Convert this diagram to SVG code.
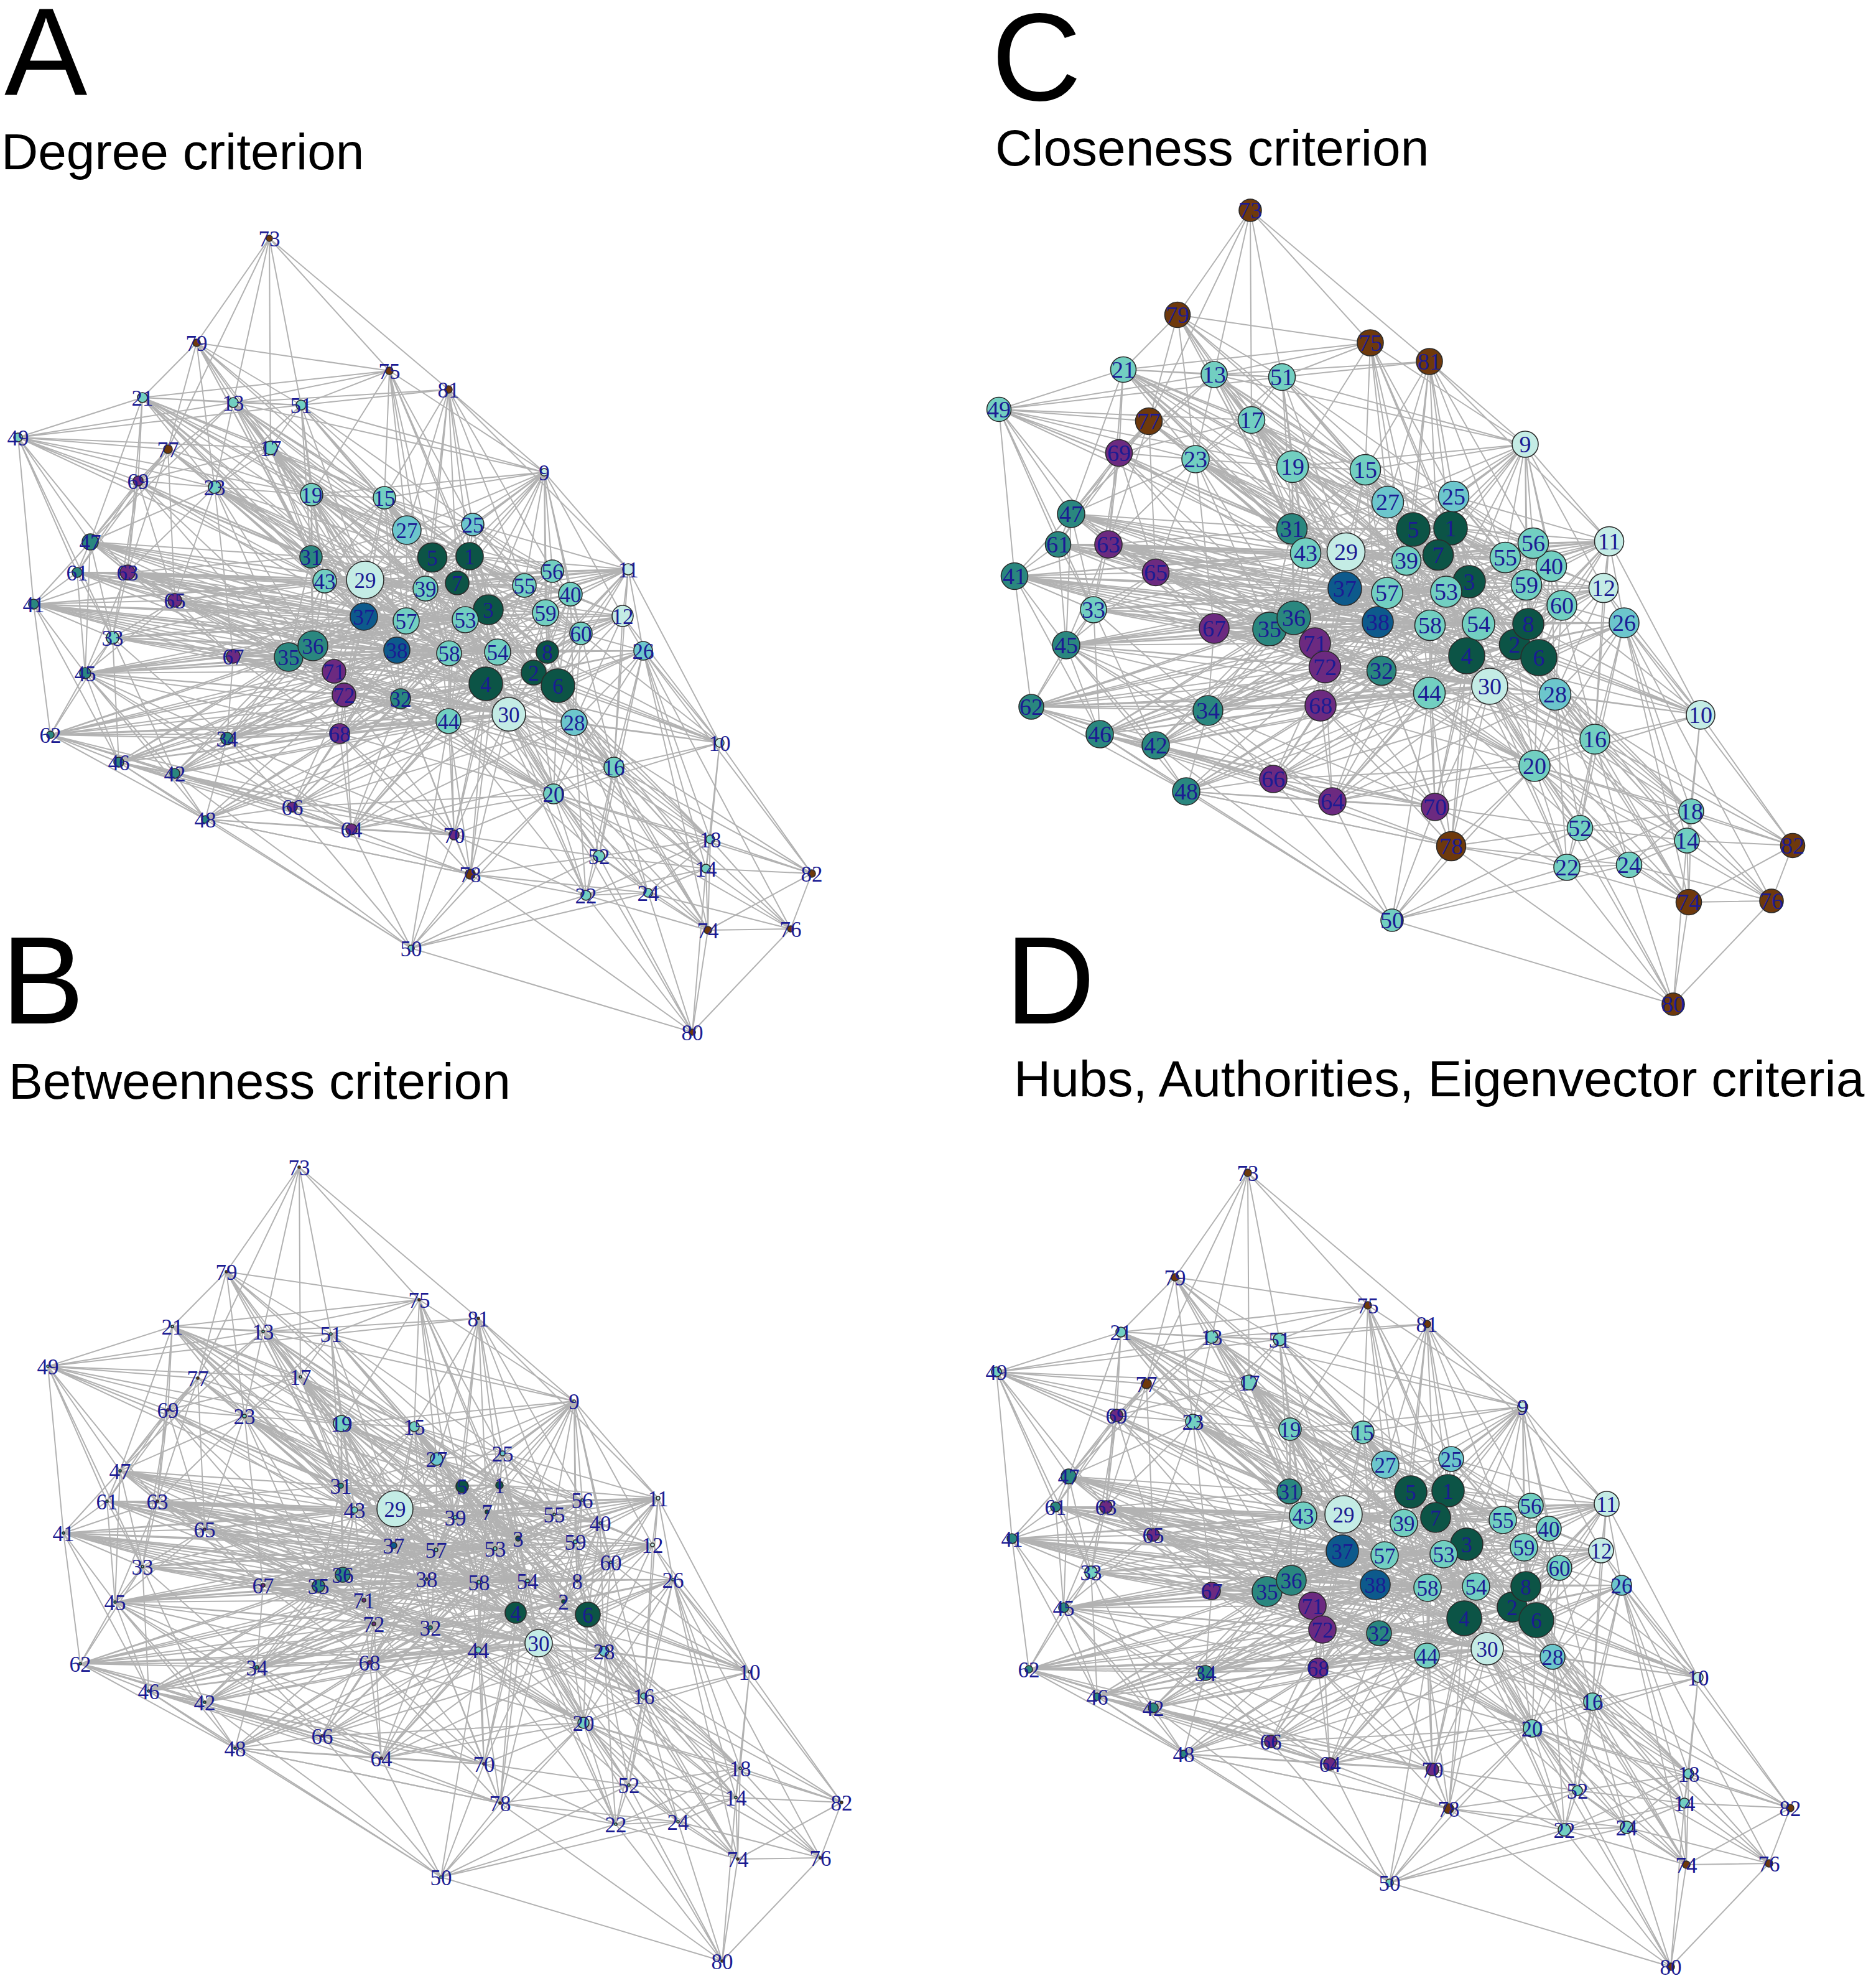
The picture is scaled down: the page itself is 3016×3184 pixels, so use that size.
<svg xmlns="http://www.w3.org/2000/svg" xmlns:xlink="http://www.w3.org/1999/xlink" width="3016" height="3184" viewBox="0 0 3016 3184">
<style>
.n circle{stroke:#2b2b2b;stroke-width:1.6}
.n text{font-family:"Liberation Serif","Times New Roman",serif;font-size:35px;fill:#1b1b93;text-anchor:middle}
.pc .n text{font-size:38px}
.dg circle{fill:#0c5446}
.bl circle{fill:#0d5a8c}
.lc circle{fill:#c4ece5}
.mt circle{fill:#72cfc1}
.mb circle{fill:#6cc6cc}
.dt circle{fill:#2a877f}
.pu circle{fill:#6c2a80}
.br circle{fill:#6e390c}
.t{font-family:"Liberation Sans",Arial,sans-serif;fill:#000}
.big{font-size:200px}
.sub{font-size:82px}
</style>
<defs>
<g id="E" fill="none" stroke="#b2b2b2" stroke-width="2">
<path d="M2010 338L1893 506M2010 338L1847 677M2010 338L1952 602M2010 338L2061 606M2010 338L2203 551M2010 338L2298 581M2010 338L2012 675"/>
<path d="M1893 506L2203 551M1893 506L1806 594M1893 506L1952 602M1893 506L2061 606M1893 506L1847 677M1893 506L1922 738M1893 506L2012 675M1893 506L2078 750M1893 506L2195 755M1893 506L2231 807M1893 506L2077 850M1893 506L2099 889"/>
<path d="M2203 551L1806 594M2203 551L1952 602M2203 551L2061 606M2203 551L2452 714M2203 551L2195 755M2203 551L2078 750M2203 551L2231 807M2203 551L2332 849M2203 551L2272 851M2203 551L2337 798M2203 551L2362 935M2203 551L2261 901"/>
<path d="M2298 581L2452 714M2298 581L2061 606M2298 581L2195 755M2298 581L2337 798M2298 581L2332 849M2298 581L2272 851M2298 581L2312 892M2298 581L2261 901M2298 581L2231 807M2298 581L2420 896M2298 581L2465 873M2298 581L2587 870M2298 581L2362 935M2298 581L1952 602"/>
<path d="M2452 714L2337 798M2452 714L2465 873M2452 714L2420 896M2452 714L2494 910M2452 714L2454 940M2452 714L2587 870M2452 714L2578 945M2452 714L2332 849M2452 714L2272 851M2452 714L2312 892M2452 714L2362 935M2452 714L2195 755M2452 714L2231 807M2452 714L2078 750M2452 714L2061 606M2452 714L1952 602M2452 714L2457 1003M2452 714L2164 887M2452 714L2261 901M2452 714L2325 951M2452 714L2511 973"/>
<path d="M2587 870L2465 873M2587 870L2420 896M2587 870L2494 910M2587 870L2454 940M2587 870L2511 973M2587 870L2578 945M2587 870L2611 1001M2587 870L2337 798M2587 870L2332 849M2587 870L2362 935M2587 870L2312 892M2587 870L2325 951M2587 870L2734 1149M2587 870L2457 1003M2587 870L2435 1036M2587 870L2474 1057M2587 870L2564 1188M2587 870L2164 887M2587 870L2261 901M2587 870L2230 953"/>
<path d="M2578 945L2611 1001M2578 945L2454 940M2578 945L2511 973M2578 945L2494 910M2578 945L2457 1003M2578 945L2474 1057M2578 945L2435 1036M2578 945L2377 1003M2578 945L2362 935M2578 945L2325 951M2578 945L2500 1116M2578 945L2734 1149M2578 945L2564 1188M2578 945L2230 953M2578 945L2215 1000M2578 945L2299 1005M2578 945L2164 887"/>
<path d="M2734 1149L2611 1001M2734 1149L2500 1116M2734 1149L2564 1188M2734 1149L2474 1057M2734 1149L2435 1036M2734 1149L2457 1003M2734 1149L2719 1304M2734 1149L2712 1351M2734 1149L2511 973M2734 1149L2395 1103M2734 1149L2467 1231M2734 1149L2882 1359M2734 1149L2358 1054M2734 1149L2377 1003"/>
<path d="M2611 1001L2511 973M2611 1001L2457 1003M2611 1001L2435 1036M2611 1001L2474 1057M2611 1001L2500 1116M2611 1001L2564 1188M2611 1001L2395 1103M2611 1001L2377 1003M2611 1001L2467 1231M2611 1001L2540 1331M2611 1001L2719 1304M2611 1001L2712 1351M2611 1001L2882 1359M2611 1001L2715 1450M2611 1001L2848 1448M2611 1001L2358 1054M2611 1001L2299 1005M2611 1001L2215 1000M2611 1001L2298 1114M2611 1001L2221 1078"/>
<path d="M2882 1359L2719 1304M2882 1359L2712 1351M2882 1359L2715 1450M2882 1359L2848 1448M2882 1359L2564 1188M2882 1359L2467 1231M2882 1359L2500 1116"/>
<path d="M2848 1448L2715 1450M2848 1448L2690 1614M2848 1448L2712 1351M2848 1448L2719 1304M2848 1448L2564 1188M2848 1448L2467 1231M2848 1448L2619 1390"/>
<path d="M2715 1450L2690 1614M2715 1450L2712 1351M2715 1450L2719 1304M2715 1450L2619 1390M2715 1450L2519 1394M2715 1450L2540 1331M2715 1450L2467 1231M2715 1450L2564 1188M2715 1450L2500 1116M2715 1450L2395 1103M2715 1450L2474 1057"/>
<path d="M2690 1614L2238 1479M2690 1614L2519 1394M2690 1614L2619 1390M2690 1614L2540 1331M2690 1614L2712 1351M2690 1614L2333 1360M2690 1614L2467 1231"/>
<path d="M2238 1479L2519 1394M2238 1479L2619 1390M2238 1479L2540 1331M2238 1479L2333 1360M2238 1479L2307 1297M2238 1479L2142 1288M2238 1479L2047 1252M2238 1479L1907 1272M2238 1479L1858 1198M2238 1479L1768 1180M2238 1479L2467 1231M2238 1479L2298 1114"/>
<path d="M2719 1304L2712 1351M2719 1304L2564 1188M2719 1304L2467 1231M2719 1304L2500 1116M2719 1304L2474 1057M2719 1304L2435 1036M2719 1304L2395 1103M2719 1304L2540 1331M2719 1304L2519 1394M2719 1304L2619 1390"/>
<path d="M2712 1351L2564 1188M2712 1351L2467 1231M2712 1351L2500 1116M2712 1351L2619 1390M2712 1351L2519 1394M2712 1351L2540 1331M2712 1351L2395 1103M2712 1351L2358 1054M2712 1351L2474 1057"/>
<path d="M2519 1394L2540 1331M2519 1394L2619 1390M2519 1394L2467 1231M2519 1394L2564 1188M2519 1394L2395 1103M2519 1394L2298 1114M2519 1394L2307 1297M2519 1394L2333 1360M2519 1394L2500 1116M2519 1394L2358 1054"/>
<path d="M2619 1390L2540 1331M2619 1390L2467 1231M2619 1390L2564 1188M2619 1390L2500 1116M2619 1390L2395 1103M2619 1390L2474 1057M2619 1390L2333 1360"/>
<path d="M2540 1331L2467 1231M2540 1331L2564 1188M2540 1331L2395 1103M2540 1331L2298 1114M2540 1331L2358 1054M2540 1331L2500 1116M2540 1331L2307 1297M2540 1331L2333 1360"/>
<path d="M2333 1360L2307 1297M2333 1360L2142 1288M2333 1360L2047 1252M2333 1360L1907 1272M2333 1360L2467 1231M2333 1360L2298 1114M2333 1360L2395 1103M2333 1360L2221 1078M2333 1360L2123 1134M2333 1360L2358 1054M2333 1360L2377 1003"/>
<path d="M2307 1297L2142 1288M2307 1297L2047 1252M2307 1297L2298 1114M2307 1297L2395 1103M2307 1297L2467 1231M2307 1297L2123 1134M2307 1297L2221 1078M2307 1297L2130 1072M2307 1297L2299 1005M2307 1297L2377 1003M2307 1297L2358 1054"/>
<path d="M2467 1231L2564 1188M2467 1231L2500 1116M2467 1231L2395 1103M2467 1231L2298 1114M2467 1231L2358 1054M2467 1231L2474 1057M2467 1231L2435 1036M2467 1231L2377 1003M2467 1231L2299 1005M2467 1231L2221 1078M2467 1231L2123 1134M2467 1231L2142 1288M2467 1231L2130 1072M2467 1231L2215 1000M2467 1231L2080 993M2467 1231L2041 1011M2467 1231L2114 1034"/>
<path d="M2564 1188L2500 1116M2564 1188L2474 1057M2564 1188L2435 1036M2564 1188L2457 1003M2564 1188L2395 1103M2564 1188L2358 1054M2564 1188L2377 1003M2564 1188L2511 973M2564 1188L2298 1114M2564 1188L2221 1078M2564 1188L2299 1005M2564 1188L2215 1000"/>
<path d="M1606 658L1806 594M1606 658L1952 602M1606 658L2061 606M1606 658L2012 675M1606 658L1847 677M1606 658L1799 728M1606 658L1922 738M1606 658L1722 826M1606 658L1631 926M1606 658L1701 875M1606 658L2078 750M1606 658L1782 875M1606 658L1758 980M1606 658L2099 889M1606 658L2077 850M1606 658L2164 887"/>
<path d="M1806 594L1952 602M1806 594L2061 606M1806 594L2012 675M1806 594L1799 728M1806 594L1722 826M1806 594L1922 738M1806 594L2078 750M1806 594L2195 755M1806 594L2077 850M1806 594L2099 889M1806 594L2164 887M1806 594L2231 807M1806 594L2272 851M1806 594L1782 875"/>
<path d="M1952 602L2061 606M1952 602L2012 675M1952 602L1922 738M1952 602L2078 750M1952 602L2195 755M1952 602L2077 850M1952 602L2231 807M1952 602L2164 887M1952 602L2099 889M1952 602L1722 826M1952 602L1799 728M1952 602L2332 849"/>
<path d="M2061 606L2012 675M2061 606L2078 750M2061 606L2195 755M2061 606L2231 807M2061 606L2337 798M2061 606L2077 850M2061 606L2272 851M2061 606L2332 849M2061 606L2164 887M2061 606L2099 889M2061 606L1922 738"/>
<path d="M2012 675L1922 738M2012 675L2078 750M2012 675L2195 755M2012 675L2077 850M2012 675L2099 889M2012 675L2164 887M2012 675L2231 807M2012 675L2162 946M2012 675L2272 851M2012 675L2261 901M2012 675L1799 728"/>
<path d="M1847 677L1799 728M1847 677L1922 738M1847 677L1722 826M1847 677L1782 875M1847 677L1701 875M1847 677L2078 750M1847 677L2077 850M1847 677L2099 889M1847 677L2164 887M1847 677L1858 920"/>
<path d="M1799 728L1722 826M1799 728L1782 875M1799 728L1701 875M1799 728L1758 980M1799 728L1922 738M1799 728L1858 920M1799 728L2077 850M1799 728L2099 889M1799 728L2164 887M1799 728L2162 946M1799 728L2041 1011M1799 728L2080 993"/>
<path d="M1922 738L2078 750M1922 738L2077 850M1922 738L2099 889M1922 738L2164 887M1922 738L2162 946M1922 738L1858 920M1922 738L1782 875M1922 738L1722 826M1922 738L2041 1011M1922 738L2080 993M1922 738L1952 1010M1922 738L2230 953M1922 738L2261 901M1922 738L2272 851"/>
<path d="M2078 750L2195 755M2078 750L2077 850M2078 750L2099 889M2078 750L2164 887M2078 750L2231 807M2078 750L2162 946M2078 750L2261 901M2078 750L2272 851M2078 750L2332 849M2078 750L2312 892M2078 750L2230 953M2078 750L2325 951M2078 750L2080 993"/>
<path d="M2195 755L2231 807M2195 755L2337 798M2195 755L2077 850M2195 755L2099 889M2195 755L2164 887M2195 755L2272 851M2195 755L2332 849M2195 755L2312 892M2195 755L2261 901M2195 755L2230 953M2195 755L2325 951M2195 755L2362 935M2195 755L2420 896"/>
<path d="M1722 826L1701 875M1722 826L1782 875M1722 826L1631 926M1722 826L1758 980M1722 826L1714 1037M1722 826L1858 920M1722 826L2077 850M1722 826L2099 889M1722 826L2164 887M1722 826L2041 1011M1722 826L2080 993M1722 826L2162 946M1722 826L1952 1010M1722 826L2230 953M1722 826L2261 901M1722 826L2325 951"/>
<path d="M1701 875L1782 875M1701 875L1631 926M1701 875L1758 980M1701 875L1714 1037M1701 875L1858 920M1701 875L2099 889M1701 875L2164 887M1701 875L2041 1011M1701 875L2080 993M1701 875L2162 946M1701 875L2230 953M1701 875L2261 901"/>
<path d="M1782 875L1631 926M1782 875L1758 980M1782 875L1714 1037M1782 875L1858 920M1782 875L1952 1010M1782 875L2099 889M1782 875L2164 887M1782 875L2162 946M1782 875L2041 1011M1782 875L2080 993M1782 875L2077 850M1782 875L2114 1034M1782 875L2230 953M1782 875L2261 901M1782 875L2325 951"/>
<path d="M1631 926L1758 980M1631 926L1714 1037M1631 926L1658 1136M1631 926L1768 1180M1631 926L1858 920M1631 926L1952 1010M1631 926L2041 1011M1631 926L2080 993M1631 926L2164 887M1631 926L2099 889M1631 926L2230 953M1631 926L2325 951M1631 926L2215 1000M1631 926L2299 1005M1631 926L2377 1003"/>
<path d="M1858 920L1758 980M1858 920L1714 1037M1858 920L1952 1010M1858 920L2041 1011M1858 920L2080 993M1858 920L2164 887M1858 920L2162 946M1858 920L2215 1000M1858 920L2099 889M1858 920L2114 1034M1858 920L2130 1072M1858 920L2230 953"/>
<path d="M1758 980L1714 1037M1758 980L1658 1136M1758 980L1768 1180M1758 980L1952 1010M1758 980L2041 1011M1758 980L2080 993M1758 980L2164 887M1758 980L2162 946M1758 980L1858 1198M1758 980L1942 1142M1758 980L2230 953M1758 980L2215 1000M1758 980L2299 1005M1758 980L2325 951"/>
<path d="M1714 1037L1658 1136M1714 1037L1768 1180M1714 1037L1858 1198M1714 1037L1942 1142M1714 1037L1952 1010M1714 1037L2041 1011M1714 1037L2080 993M1714 1037L2114 1034M1714 1037L2130 1072M1714 1037L2162 946M1714 1037L2215 1000M1714 1037L1907 1272M1714 1037L2230 953M1714 1037L2325 951M1714 1037L2299 1005M1714 1037L2377 1003M1714 1037L2221 1078M1714 1037L2298 1114"/>
<path d="M1658 1136L1768 1180M1658 1136L1858 1198M1658 1136L1942 1142M1658 1136L1907 1272M1658 1136L2041 1011M1658 1136L2080 993M1658 1136L2123 1134M1658 1136L2114 1034M1658 1136L2130 1072M1658 1136L2221 1078M1658 1136L2215 1000M1658 1136L2299 1005M1658 1136L2298 1114M1658 1136L2395 1103"/>
<path d="M1768 1180L1858 1198M1768 1180L1907 1272M1768 1180L1942 1142M1768 1180L2041 1011M1768 1180L2080 993M1768 1180L2114 1034M1768 1180L2130 1072M1768 1180L2123 1134M1768 1180L2221 1078M1768 1180L2047 1252M1768 1180L2215 1000M1768 1180L2299 1005M1768 1180L2298 1114M1768 1180L2395 1103M1768 1180L2358 1054"/>
<path d="M1858 1198L1907 1272M1858 1198L1942 1142M1858 1198L2047 1252M1858 1198L2041 1011M1858 1198L2080 993M1858 1198L2114 1034M1858 1198L2130 1072M1858 1198L2123 1134M1858 1198L2221 1078M1858 1198L2142 1288M1858 1198L2215 1000"/>
<path d="M1907 1272L1942 1142M1907 1272L2047 1252M1907 1272L2142 1288M1907 1272L2123 1134M1907 1272L2221 1078M1907 1272L2298 1114M1907 1272L2130 1072M1907 1272L2395 1103M1907 1272L2358 1054"/>
<path d="M1942 1142L1952 1010M1942 1142L2041 1011M1942 1142L2080 993M1942 1142L2114 1034M1942 1142L2130 1072M1942 1142L2123 1134M1942 1142L2221 1078M1942 1142L2047 1252M1942 1142L2215 1000M1942 1142L2162 946"/>
<path d="M1952 1010L2041 1011M1952 1010L2080 993M1952 1010L2114 1034M1952 1010L2130 1072M1952 1010L2162 946M1952 1010L2215 1000M1952 1010L2164 887M1952 1010L2221 1078M1952 1010L2230 953M1952 1010L2123 1134"/>
<path d="M2047 1252L2142 1288M2047 1252L2123 1134M2047 1252L2221 1078M2047 1252L2130 1072M2047 1252L2298 1114M2047 1252L2395 1103M2047 1252L2358 1054M2047 1252L2215 1000M2047 1252L2299 1005"/>
<path d="M2142 1288L2123 1134M2142 1288L2221 1078M2142 1288L2298 1114M2142 1288L2395 1103M2142 1288L2358 1054M2142 1288L2377 1003M2142 1288L2130 1072M2142 1288L2299 1005"/>
<path d="M2123 1134L2130 1072M2123 1134L2114 1034M2123 1134L2221 1078M2123 1134L2298 1114M2123 1134L2395 1103M2123 1134L2215 1000M2123 1134L2299 1005M2123 1134L2162 946M2123 1134L2358 1054M2123 1134L2230 953"/>
<path d="M2332 849L2272 851M2332 849L2312 892M2332 849L2337 798M2332 849L2231 807M2332 849L2261 901M2332 849L2362 935M2332 849L2325 951M2332 849L2420 896M2332 849L2465 873M2332 849L2494 910M2332 849L2454 940M2332 849L2457 1003M2332 849L2435 1036M2332 849L2474 1057M2332 849L2358 1054M2332 849L2377 1003M2332 849L2299 1005M2332 849L2230 953M2332 849L2162 946M2332 849L2215 1000M2332 849L2164 887M2332 849L2395 1103M2332 849L2511 973M2332 849L2578 945"/>
<path d="M2272 851L2312 892M2272 851L2337 798M2272 851L2231 807M2272 851L2261 901M2272 851L2099 889M2272 851L2164 887M2272 851L2162 946M2272 851L2230 953M2272 851L2362 935M2272 851L2325 951M2272 851L2299 1005M2272 851L2377 1003M2272 851L2358 1054M2272 851L2474 1057M2272 851L2435 1036M2272 851L2457 1003M2272 851L2215 1000M2272 851L2077 850M2272 851L2080 993M2272 851L2041 1011M2272 851L2298 1114M2272 851L2395 1103M2272 851L2420 896M2272 851L2454 940"/>
<path d="M2312 892L2261 901M2312 892L2362 935M2312 892L2325 951M2312 892L2230 953M2312 892L2162 946M2312 892L2215 1000M2312 892L2164 887M2312 892L2299 1005M2312 892L2377 1003M2312 892L2358 1054M2312 892L2474 1057M2312 892L2457 1003M2312 892L2435 1036M2312 892L2420 896M2312 892L2454 940M2312 892L2465 873M2312 892L2494 910M2312 892L2511 973M2312 892L2395 1103M2312 892L2221 1078M2312 892L2298 1114M2312 892L2337 798M2312 892L2231 807"/>
<path d="M2362 935L2325 951M2362 935L2377 1003M2362 935L2299 1005M2362 935L2358 1054M2362 935L2457 1003M2362 935L2435 1036M2362 935L2474 1057M2362 935L2420 896M2362 935L2454 940M2362 935L2494 910M2362 935L2465 873M2362 935L2511 973M2362 935L2395 1103M2362 935L2261 901M2362 935L2230 953M2362 935L2162 946M2362 935L2215 1000M2362 935L2164 887M2362 935L2080 993M2362 935L2041 1011M2362 935L2298 1114M2362 935L2500 1116"/>
<path d="M2358 1054L2377 1003M2358 1054L2299 1005M2358 1054L2435 1036M2358 1054L2457 1003M2358 1054L2474 1057M2358 1054L2395 1103M2358 1054L2298 1114M2358 1054L2221 1078M2358 1054L2215 1000M2358 1054L2230 953M2358 1054L2325 951M2358 1054L2162 946M2358 1054L2164 887M2358 1054L2080 993M2358 1054L2041 1011M2358 1054L2114 1034M2358 1054L2130 1072M2358 1054L2500 1116M2358 1054L2454 940M2358 1054L2511 973"/>
<path d="M2474 1057L2457 1003M2474 1057L2435 1036M2474 1057L2377 1003M2474 1057L2395 1103M2474 1057L2500 1116M2474 1057L2511 973M2474 1057L2454 940M2474 1057L2494 910M2474 1057L2325 951M2474 1057L2299 1005M2474 1057L2215 1000M2474 1057L2298 1114M2474 1057L2164 887M2474 1057L2162 946"/>
<path d="M2435 1036L2457 1003M2435 1036L2377 1003M2435 1036L2395 1103M2435 1036L2500 1116M2435 1036L2511 973M2435 1036L2454 940M2435 1036L2325 951M2435 1036L2299 1005M2435 1036L2215 1000M2435 1036L2298 1114M2435 1036L2230 953M2435 1036L2164 887"/>
<path d="M2457 1003L2377 1003M2457 1003L2511 973M2457 1003L2454 940M2457 1003L2494 910M2457 1003L2420 896M2457 1003L2465 873M2457 1003L2325 951M2457 1003L2299 1005M2457 1003L2500 1116M2457 1003L2395 1103M2457 1003L2215 1000M2457 1003L2162 946M2457 1003L2164 887"/>
<path d="M2164 887L2099 889M2164 887L2077 850M2164 887L2162 946M2164 887L2261 901M2164 887L2230 953M2164 887L2231 807M2164 887L2041 1011M2164 887L2080 993M2164 887L2114 1034M2164 887L2130 1072M2164 887L2215 1000M2164 887L2325 951M2164 887L2299 1005M2164 887L2221 1078M2164 887L2298 1114M2164 887L2395 1103M2164 887L2420 896M2164 887L2465 873M2164 887L2454 940M2164 887L2377 1003"/>
<path d="M2395 1103L2298 1114M2395 1103L2377 1003M2395 1103L2299 1005M2395 1103L2500 1116M2395 1103L2221 1078M2395 1103L2215 1000M2395 1103L2230 953M2395 1103L2325 951M2395 1103L2162 946M2395 1103L2080 993M2395 1103L2041 1011M2395 1103L2130 1072M2395 1103L2114 1034M2395 1103L2511 973M2395 1103L2454 940"/>
<path d="M2162 946L2215 1000M2162 946L2230 953M2162 946L2099 889M2162 946L2077 850M2162 946L2080 993M2162 946L2041 1011M2162 946L2114 1034M2162 946L2130 1072M2162 946L2261 901M2162 946L2325 951M2162 946L2299 1005M2162 946L2221 1078M2162 946L2231 807"/>
<path d="M2215 1000L2230 953M2215 1000L2299 1005M2215 1000L2325 951M2215 1000L2377 1003M2215 1000L2221 1078M2215 1000L2114 1034M2215 1000L2130 1072M2215 1000L2080 993M2215 1000L2041 1011M2215 1000L2298 1114"/>
<path d="M2041 1011L2080 993M2041 1011L2114 1034M2041 1011L2130 1072M2041 1011L2099 889M2041 1011L2077 850M2041 1011L2230 953M2041 1011L2221 1078M2041 1011L2298 1114M2041 1011L2299 1005"/>
<path d="M2080 993L2114 1034M2080 993L2130 1072M2080 993L2099 889M2080 993L2077 850M2080 993L2230 953M2080 993L2221 1078M2080 993L2299 1005M2080 993L2325 951"/>
<path d="M2114 1034L2130 1072M2114 1034L2230 953M2114 1034L2221 1078M2114 1034L2299 1005M2114 1034L2099 889M2130 1072L2221 1078M2130 1072L2299 1005M2130 1072L2298 1114M2130 1072L2230 953"/>
<path d="M2099 889L2077 850M2099 889L2261 901M2099 889L2230 953M2099 889L2231 807M2099 889L2325 951M2077 850L2231 807M2077 850L2261 901M2077 850L2230 953"/>
<path d="M2231 807L2337 798M2231 807L2261 901M2231 807L2325 951M2231 807L2420 896M2231 807L2465 873M2337 798L2261 901M2337 798L2420 896M2337 798L2465 873M2337 798L2494 910M2337 798L2325 951M2337 798L2362 935"/>
<path d="M2261 901L2230 953M2261 901L2325 951M2261 901L2420 896M2261 901L2299 1005M2261 901L2377 1003M2325 951L2230 953M2325 951L2299 1005M2325 951L2377 1003M2325 951L2420 896M2325 951L2454 940M2325 951L2511 973"/>
<path d="M2420 896L2465 873M2420 896L2494 910M2420 896L2454 940M2420 896L2511 973M2420 896L2377 1003M2465 873L2494 910M2465 873L2454 940M2465 873L2511 973M2494 910L2454 940M2494 910L2511 973M2494 910L2500 1116M2494 910L2377 1003"/>
<path d="M2454 940L2511 973M2454 940L2377 1003M2454 940L2500 1116M2511 973L2500 1116M2511 973L2377 1003M2377 1003L2299 1005M2377 1003L2298 1114M2377 1003L2500 1116M2230 953L2299 1005M2230 953L2221 1078M2230 953L2298 1114M2299 1005L2298 1114M2299 1005L2221 1078M2221 1078L2298 1114M2298 1114L2500 1116"/>
<path d="M2500 1116L2221 1078M2500 1116L2299 1005M2500 1116L2215 1000M2500 1116L2230 953"/>
<path d="M2077 850L2041 1011M2077 850L2080 993M2077 850L2162 946M2077 850L2325 951M2077 850L2299 1005M2077 850L2362 935M2077 850L2312 892M2077 850L2332 849"/>
<path d="M2099 889L2041 1011M2099 889L2080 993M2099 889L2162 946M2099 889L2215 1000M2099 889L2299 1005M2099 889L2377 1003M2099 889L2362 935M2099 889L2312 892M2099 889L2332 849M2099 889L2420 896"/>
<path d="M2230 953L2325 951M2230 953L2377 1003M2230 953L2362 935M2230 953L2420 896M2230 953L2454 940M2230 953L2457 1003M2261 901L2215 1000M2261 901L2454 940M2261 901L2465 873"/>
<path d="M2231 807L2230 953M2231 807L2362 935M2231 807L2299 1005M2337 798L2230 953M2337 798L2377 1003M2337 798L2454 940M2337 798L2511 973M2420 896L2299 1005M2465 873L2325 951M2465 873L2377 1003M2465 873L2299 1005"/>
<path d="M2494 910L2435 1036M2494 910L2325 951M2494 910L2299 1005M2454 940L2299 1005M2080 993L2377 1003M2041 1011L2325 951M2114 1034L2325 951M2114 1034L2377 1003M2114 1034L2298 1114M2130 1072L2377 1003M2221 1078L2377 1003M2221 1078L2325 951M2221 1078L2474 1057M2298 1114L2325 951"/>
<path d="M1952 1010L2299 1005M1952 1010L2325 951M1952 1010L2298 1114M1952 1010L2395 1103M1858 920L2325 951M1858 920L2299 1005M1858 920L2377 1003M1858 920L2358 1054M1782 875L2299 1005M1782 875L2215 1000M1782 875L2377 1003M1701 875L2215 1000M1701 875L2299 1005M1701 875L2325 951"/>
<path d="M1758 980L2377 1003M1758 980L2358 1054M1758 980L2395 1103M1942 1142L2299 1005M1942 1142L2298 1114M1942 1142L2395 1103M1942 1142L2358 1054M1942 1142L2377 1003M2123 1134L2377 1003M2123 1134L2325 951M2123 1134L2435 1036M2123 1134L2474 1057"/>
<path d="M2078 750L2215 1000M2078 750L2299 1005M2078 750L2377 1003M2078 750L2420 896M2078 750L2362 935M2195 755L2162 946M2195 755L2215 1000M2195 755L2299 1005M2195 755L2377 1003M2195 755L2454 940M2195 755L2465 873"/>
<path d="M1922 738L2215 1000M1922 738L2325 951M1922 738L2299 1005M1922 738L2377 1003M1922 738L2362 935M2012 675L2230 953M2012 675L2325 951M2012 675L2215 1000M2012 675L2362 935M1806 594L2162 946M1806 594L2261 901M1806 594L2230 953M1952 602L2162 946M1952 602L2261 901M1952 602L2230 953M1952 602L2272 851"/>
<path d="M1722 826L2215 1000M1722 826L2299 1005M1722 826L2377 1003M1631 926L2358 1054M1631 926L2395 1103M1631 926L2298 1114"/>
<path d="M1658 1136L2307 1297M1658 1136L2142 1288M1658 1136L2047 1252M1768 1180L2307 1297M1768 1180L2142 1288M1768 1180L2333 1360M1858 1198L2307 1297M1858 1198L2298 1114M1858 1198L2395 1103M1907 1272L2307 1297M1907 1272L2333 1360M1714 1037L2142 1288M1714 1037L2047 1252M1714 1037L2123 1134M1942 1142L2142 1288M1942 1142L2307 1297M2047 1252L2467 1231M2047 1252L2500 1116M2142 1288L2500 1116M2142 1288L2564 1188"/>
</g>
</defs>

<g id="titles" class="t">
<text class="big" x="7" y="152">A</text>
<text class="sub" x="2" y="272">Degree criterion</text>
<text class="big" x="1594" y="161">C</text>
<text class="sub" x="1600" y="266">Closeness criterion</text>
<text class="big" x="2" y="1645">B</text>
<text class="sub" x="14" y="1766">Betweenness criterion</text>
<text class="big" x="1616" y="1645">D</text>
<text class="sub" x="1630" y="1762">Hubs, Authorities, Eigenvector criteria</text>
</g>

<g id="panelA" transform="translate(-1577,45)">
<g id="A-edges"><use xlink:href="#E" href="#E"/></g>
<g id="A-nodes">
<g id="A1" class="n dg"><circle cx="2332" cy="849" r="22"/><text x="2332" y="862">1</text></g>
<g id="A2" class="n dg"><circle cx="2435" cy="1036" r="20"/><text x="2435" y="1049">2</text></g>
<g id="A3" class="n dg"><circle cx="2362" cy="935" r="24"/><text x="2362" y="948">3</text></g>
<g id="A4" class="n dg"><circle cx="2358" cy="1054" r="27"/><text x="2358" y="1067">4</text></g>
<g id="A5" class="n dg"><circle cx="2272" cy="851" r="23.5"/><text x="2272" y="864">5</text></g>
<g id="A6" class="n dg"><circle cx="2474" cy="1057" r="27"/><text x="2474" y="1070">6</text></g>
<g id="A7" class="n dg"><circle cx="2312" cy="892" r="19"/><text x="2312" y="905">7</text></g>
<g id="A8" class="n dg"><circle cx="2457" cy="1003" r="18"/><text x="2457" y="1016">8</text></g>
<g id="A9" class="n lc"><circle cx="2452" cy="714" r="6"/><text x="2452" y="727">9</text></g>
<g id="A10" class="n lc"><circle cx="2734" cy="1149" r="7"/><text x="2734" y="1162">10</text></g>
<g id="A11" class="n lc"><circle cx="2587" cy="870" r="9"/><text x="2587" y="883">11</text></g>
<g id="A12" class="n lc"><circle cx="2578" cy="945" r="17"/><text x="2578" y="958">12</text></g>
<g id="A13" class="n mt"><circle cx="1952" cy="602" r="8"/><text x="1952" y="615">13</text></g>
<g id="A14" class="n mt"><circle cx="2712" cy="1351" r="7"/><text x="2712" y="1364">14</text></g>
<g id="A15" class="n mt"><circle cx="2195" cy="755" r="18"/><text x="2195" y="768">15</text></g>
<g id="A16" class="n mt"><circle cx="2564" cy="1188" r="16"/><text x="2564" y="1201">16</text></g>
<g id="A17" class="n mt"><circle cx="2012" cy="675" r="11"/><text x="2012" y="688">17</text></g>
<g id="A18" class="n mt"><circle cx="2719" cy="1304" r="7"/><text x="2719" y="1317">18</text></g>
<g id="A19" class="n mt"><circle cx="2078" cy="750" r="18"/><text x="2078" y="763">19</text></g>
<g id="A20" class="n mt"><circle cx="2467" cy="1231" r="16"/><text x="2467" y="1244">20</text></g>
<g id="A21" class="n mt"><circle cx="1806" cy="594" r="8"/><text x="1806" y="607">21</text></g>
<g id="A22" class="n mt"><circle cx="2519" cy="1394" r="8"/><text x="2519" y="1407">22</text></g>
<g id="A23" class="n mt"><circle cx="1922" cy="738" r="10"/><text x="1922" y="751">23</text></g>
<g id="A24" class="n mt"><circle cx="2619" cy="1390" r="7"/><text x="2619" y="1403">24</text></g>
<g id="A25" class="n mb"><circle cx="2337" cy="798" r="18"/><text x="2337" y="811">25</text></g>
<g id="A26" class="n mb"><circle cx="2611" cy="1001" r="15"/><text x="2611" y="1014">26</text></g>
<g id="A27" class="n mb"><circle cx="2231" cy="807" r="23"/><text x="2231" y="820">27</text></g>
<g id="A28" class="n mb"><circle cx="2500" cy="1116" r="21"/><text x="2500" y="1129">28</text></g>
<g id="A29" class="n lc"><circle cx="2164" cy="887" r="30"/><text x="2164" y="900">29</text></g>
<g id="A30" class="n lc"><circle cx="2395" cy="1103" r="27"/><text x="2395" y="1116">30</text></g>
<g id="A31" class="n dt"><circle cx="2077" cy="850" r="18"/><text x="2077" y="863">31</text></g>
<g id="A32" class="n dt"><circle cx="2221" cy="1078" r="16"/><text x="2221" y="1091">32</text></g>
<g id="A33" class="n mt"><circle cx="1758" cy="980" r="10"/><text x="1758" y="993">33</text></g>
<g id="A34" class="n dt"><circle cx="1942" cy="1142" r="10"/><text x="1942" y="1155">34</text></g>
<g id="A35" class="n dt"><circle cx="2041" cy="1011" r="23"/><text x="2041" y="1024">35</text></g>
<g id="A36" class="n dt"><circle cx="2080" cy="993" r="24"/><text x="2080" y="1006">36</text></g>
<g id="A37" class="n bl"><circle cx="2162" cy="946" r="22"/><text x="2162" y="959">37</text></g>
<g id="A38" class="n bl"><circle cx="2215" cy="1000" r="21"/><text x="2215" y="1013">38</text></g>
<g id="A39" class="n mt"><circle cx="2261" cy="901" r="20"/><text x="2261" y="914">39</text></g>
<g id="A40" class="n mt"><circle cx="2494" cy="910" r="19"/><text x="2494" y="923">40</text></g>
<g id="A41" class="n dt"><circle cx="1631" cy="926" r="8"/><text x="1631" y="939">41</text></g>
<g id="A42" class="n dt"><circle cx="1858" cy="1198" r="8"/><text x="1858" y="1211">42</text></g>
<g id="A43" class="n mt"><circle cx="2099" cy="889" r="19"/><text x="2099" y="902">43</text></g>
<g id="A44" class="n mt"><circle cx="2298" cy="1114" r="20"/><text x="2298" y="1127">44</text></g>
<g id="A45" class="n dt"><circle cx="1714" cy="1037" r="9"/><text x="1714" y="1050">45</text></g>
<g id="A46" class="n dt"><circle cx="1768" cy="1180" r="8"/><text x="1768" y="1193">46</text></g>
<g id="A47" class="n dt"><circle cx="1722" cy="826" r="13"/><text x="1722" y="839">47</text></g>
<g id="A48" class="n dt"><circle cx="1907" cy="1272" r="6"/><text x="1907" y="1285">48</text></g>
<g id="A49" class="n mt"><circle cx="1606" cy="658" r="7"/><text x="1606" y="671">49</text></g>
<g id="A50" class="n mt"><circle cx="2238" cy="1479" r="5"/><text x="2238" y="1492">50</text></g>
<g id="A51" class="n mt"><circle cx="2061" cy="606" r="8"/><text x="2061" y="619">51</text></g>
<g id="A52" class="n mt"><circle cx="2540" cy="1331" r="9"/><text x="2540" y="1344">52</text></g>
<g id="A53" class="n mt"><circle cx="2325" cy="951" r="21"/><text x="2325" y="964">53</text></g>
<g id="A54" class="n mt"><circle cx="2377" cy="1003" r="21"/><text x="2377" y="1016">54</text></g>
<g id="A55" class="n mt"><circle cx="2420" cy="896" r="19"/><text x="2420" y="909">55</text></g>
<g id="A56" class="n mt"><circle cx="2465" cy="873" r="18"/><text x="2465" y="886">56</text></g>
<g id="A57" class="n mt"><circle cx="2230" cy="953" r="21"/><text x="2230" y="966">57</text></g>
<g id="A58" class="n mt"><circle cx="2299" cy="1005" r="20"/><text x="2299" y="1018">58</text></g>
<g id="A59" class="n mt"><circle cx="2454" cy="940" r="21"/><text x="2454" y="953">59</text></g>
<g id="A60" class="n mt"><circle cx="2511" cy="973" r="18"/><text x="2511" y="986">60</text></g>
<g id="A61" class="n dt"><circle cx="1701" cy="875" r="8"/><text x="1701" y="888">61</text></g>
<g id="A62" class="n dt"><circle cx="1658" cy="1136" r="6"/><text x="1658" y="1149">62</text></g>
<g id="A63" class="n pu"><circle cx="1782" cy="875" r="12"/><text x="1782" y="888">63</text></g>
<g id="A64" class="n pu"><circle cx="2142" cy="1288" r="9"/><text x="2142" y="1301">64</text></g>
<g id="A65" class="n pu"><circle cx="1858" cy="920" r="11"/><text x="1858" y="933">65</text></g>
<g id="A66" class="n pu"><circle cx="2047" cy="1252" r="8"/><text x="2047" y="1265">66</text></g>
<g id="A67" class="n pu"><circle cx="1952" cy="1010" r="11"/><text x="1952" y="1023">67</text></g>
<g id="A68" class="n pu"><circle cx="2123" cy="1134" r="16"/><text x="2123" y="1147">68</text></g>
<g id="A69" class="n pu"><circle cx="1799" cy="728" r="8"/><text x="1799" y="741">69</text></g>
<g id="A70" class="n pu"><circle cx="2307" cy="1297" r="8"/><text x="2307" y="1310">70</text></g>
<g id="A71" class="n pu"><circle cx="2114" cy="1034" r="19"/><text x="2114" y="1047">71</text></g>
<g id="A72" class="n pu"><circle cx="2130" cy="1072" r="19"/><text x="2130" y="1085">72</text></g>
<g id="A73" class="n br"><circle cx="2010" cy="338" r="5"/><text x="2010" y="351">73</text></g>
<g id="A74" class="n br"><circle cx="2715" cy="1450" r="6"/><text x="2715" y="1463">74</text></g>
<g id="A75" class="n br"><circle cx="2203" cy="551" r="6"/><text x="2203" y="564">75</text></g>
<g id="A76" class="n br"><circle cx="2848" cy="1448" r="5"/><text x="2848" y="1461">76</text></g>
<g id="A77" class="n br"><circle cx="1847" cy="677" r="7"/><text x="1847" y="690">77</text></g>
<g id="A78" class="n br"><circle cx="2333" cy="1360" r="8"/><text x="2333" y="1373">78</text></g>
<g id="A79" class="n br"><circle cx="1893" cy="506" r="6"/><text x="1893" y="519">79</text></g>
<g id="A80" class="n br"><circle cx="2690" cy="1614" r="5"/><text x="2690" y="1627">80</text></g>
<g id="A81" class="n br"><circle cx="2298" cy="581" r="6"/><text x="2298" y="594">81</text></g>
<g id="A82" class="n br"><circle cx="2882" cy="1359" r="6"/><text x="2882" y="1372">82</text></g>
</g>
</g>

<g id="panelC" class="pc">
<g id="C-edges"><use xlink:href="#E" href="#E"/></g>
<g id="C-nodes">
<g id="C1" class="n dg"><circle cx="2332" cy="849" r="27"/><text x="2332" y="862">1</text></g>
<g id="C2" class="n dg"><circle cx="2435" cy="1036" r="24.5"/><text x="2435" y="1049">2</text></g>
<g id="C3" class="n dg"><circle cx="2362" cy="935" r="26"/><text x="2362" y="948">3</text></g>
<g id="C4" class="n dg"><circle cx="2358" cy="1054" r="29"/><text x="2358" y="1067">4</text></g>
<g id="C5" class="n dg"><circle cx="2272" cy="851" r="27"/><text x="2272" y="864">5</text></g>
<g id="C6" class="n dg"><circle cx="2474" cy="1057" r="29"/><text x="2474" y="1070">6</text></g>
<g id="C7" class="n dg"><circle cx="2312" cy="892" r="24.5"/><text x="2312" y="905">7</text></g>
<g id="C8" class="n dg"><circle cx="2457" cy="1003" r="25"/><text x="2457" y="1016">8</text></g>
<g id="C9" class="n lc"><circle cx="2452" cy="714" r="21"/><text x="2452" y="727">9</text></g>
<g id="C10" class="n lc"><circle cx="2734" cy="1149" r="23"/><text x="2734" y="1162">10</text></g>
<g id="C11" class="n lc"><circle cx="2587" cy="870" r="23.5"/><text x="2587" y="883">11</text></g>
<g id="C12" class="n lc"><circle cx="2578" cy="945" r="23.5"/><text x="2578" y="958">12</text></g>
<g id="C13" class="n mt"><circle cx="1952" cy="602" r="21"/><text x="1952" y="615">13</text></g>
<g id="C14" class="n mt"><circle cx="2712" cy="1351" r="20"/><text x="2712" y="1364">14</text></g>
<g id="C15" class="n mt"><circle cx="2195" cy="755" r="24.5"/><text x="2195" y="768">15</text></g>
<g id="C16" class="n mt"><circle cx="2564" cy="1188" r="24"/><text x="2564" y="1201">16</text></g>
<g id="C17" class="n mt"><circle cx="2012" cy="675" r="21.5"/><text x="2012" y="688">17</text></g>
<g id="C18" class="n mt"><circle cx="2719" cy="1304" r="20"/><text x="2719" y="1317">18</text></g>
<g id="C19" class="n mt"><circle cx="2078" cy="750" r="25.5"/><text x="2078" y="763">19</text></g>
<g id="C20" class="n mt"><circle cx="2467" cy="1231" r="25"/><text x="2467" y="1244">20</text></g>
<g id="C21" class="n mt"><circle cx="1806" cy="594" r="20.5"/><text x="1806" y="607">21</text></g>
<g id="C22" class="n mt"><circle cx="2519" cy="1394" r="21"/><text x="2519" y="1407">22</text></g>
<g id="C23" class="n mt"><circle cx="1922" cy="738" r="22"/><text x="1922" y="751">23</text></g>
<g id="C24" class="n mt"><circle cx="2619" cy="1390" r="20.5"/><text x="2619" y="1403">24</text></g>
<g id="C25" class="n mb"><circle cx="2337" cy="798" r="24.5"/><text x="2337" y="811">25</text></g>
<g id="C26" class="n mb"><circle cx="2611" cy="1001" r="24"/><text x="2611" y="1014">26</text></g>
<g id="C27" class="n mb"><circle cx="2231" cy="807" r="25.5"/><text x="2231" y="820">27</text></g>
<g id="C28" class="n mb"><circle cx="2500" cy="1116" r="25.5"/><text x="2500" y="1129">28</text></g>
<g id="C29" class="n lc"><circle cx="2164" cy="887" r="30.5"/><text x="2164" y="900">29</text></g>
<g id="C30" class="n lc"><circle cx="2395" cy="1103" r="29"/><text x="2395" y="1116">30</text></g>
<g id="C31" class="n dt"><circle cx="2077" cy="850" r="24.5"/><text x="2077" y="863">31</text></g>
<g id="C32" class="n dt"><circle cx="2221" cy="1078" r="23.5"/><text x="2221" y="1091">32</text></g>
<g id="C33" class="n mt"><circle cx="1758" cy="980" r="21"/><text x="1758" y="993">33</text></g>
<g id="C34" class="n dt"><circle cx="1942" cy="1142" r="24"/><text x="1942" y="1155">34</text></g>
<g id="C35" class="n dt"><circle cx="2041" cy="1011" r="27"/><text x="2041" y="1024">35</text></g>
<g id="C36" class="n dt"><circle cx="2080" cy="993" r="27"/><text x="2080" y="1006">36</text></g>
<g id="C37" class="n bl"><circle cx="2162" cy="946" r="27"/><text x="2162" y="959">37</text></g>
<g id="C38" class="n bl"><circle cx="2215" cy="1000" r="25"/><text x="2215" y="1013">38</text></g>
<g id="C39" class="n mt"><circle cx="2261" cy="901" r="23.5"/><text x="2261" y="914">39</text></g>
<g id="C40" class="n mt"><circle cx="2494" cy="910" r="24.5"/><text x="2494" y="923">40</text></g>
<g id="C41" class="n dt"><circle cx="1631" cy="926" r="21.5"/><text x="1631" y="939">41</text></g>
<g id="C42" class="n dt"><circle cx="1858" cy="1198" r="22"/><text x="1858" y="1211">42</text></g>
<g id="C43" class="n mt"><circle cx="2099" cy="889" r="24.5"/><text x="2099" y="902">43</text></g>
<g id="C44" class="n mt"><circle cx="2298" cy="1114" r="25.5"/><text x="2298" y="1127">44</text></g>
<g id="C45" class="n dt"><circle cx="1714" cy="1037" r="22"/><text x="1714" y="1050">45</text></g>
<g id="C46" class="n dt"><circle cx="1768" cy="1180" r="22"/><text x="1768" y="1193">46</text></g>
<g id="C47" class="n dt"><circle cx="1722" cy="826" r="22"/><text x="1722" y="839">47</text></g>
<g id="C48" class="n dt"><circle cx="1907" cy="1272" r="22"/><text x="1907" y="1285">48</text></g>
<g id="C49" class="n mt"><circle cx="1606" cy="658" r="19.5"/><text x="1606" y="671">49</text></g>
<g id="C50" class="n mt"><circle cx="2238" cy="1479" r="18"/><text x="2238" y="1492">50</text></g>
<g id="C51" class="n mt"><circle cx="2061" cy="606" r="21.5"/><text x="2061" y="619">51</text></g>
<g id="C52" class="n mt"><circle cx="2540" cy="1331" r="20.5"/><text x="2540" y="1344">52</text></g>
<g id="C53" class="n mt"><circle cx="2325" cy="951" r="25"/><text x="2325" y="964">53</text></g>
<g id="C54" class="n mt"><circle cx="2377" cy="1003" r="26"/><text x="2377" y="1016">54</text></g>
<g id="C55" class="n mt"><circle cx="2420" cy="896" r="24.5"/><text x="2420" y="909">55</text></g>
<g id="C56" class="n mt"><circle cx="2465" cy="873" r="24.5"/><text x="2465" y="886">56</text></g>
<g id="C57" class="n mt"><circle cx="2230" cy="953" r="25"/><text x="2230" y="966">57</text></g>
<g id="C58" class="n mt"><circle cx="2299" cy="1005" r="24.5"/><text x="2299" y="1018">58</text></g>
<g id="C59" class="n mt"><circle cx="2454" cy="940" r="24.5"/><text x="2454" y="953">59</text></g>
<g id="C60" class="n mt"><circle cx="2511" cy="973" r="24"/><text x="2511" y="986">60</text></g>
<g id="C61" class="n dt"><circle cx="1701" cy="875" r="20.5"/><text x="1701" y="888">61</text></g>
<g id="C62" class="n dt"><circle cx="1658" cy="1136" r="20"/><text x="1658" y="1149">62</text></g>
<g id="C63" class="n pu"><circle cx="1782" cy="875" r="22"/><text x="1782" y="888">63</text></g>
<g id="C64" class="n pu"><circle cx="2142" cy="1288" r="22"/><text x="2142" y="1301">64</text></g>
<g id="C65" class="n pu"><circle cx="1858" cy="920" r="21.5"/><text x="1858" y="933">65</text></g>
<g id="C66" class="n pu"><circle cx="2047" cy="1252" r="22"/><text x="2047" y="1265">66</text></g>
<g id="C67" class="n pu"><circle cx="1952" cy="1010" r="24"/><text x="1952" y="1023">67</text></g>
<g id="C68" class="n pu"><circle cx="2123" cy="1134" r="25"/><text x="2123" y="1147">68</text></g>
<g id="C69" class="n pu"><circle cx="1799" cy="728" r="21.5"/><text x="1799" y="741">69</text></g>
<g id="C70" class="n pu"><circle cx="2307" cy="1297" r="22"/><text x="2307" y="1310">70</text></g>
<g id="C71" class="n pu"><circle cx="2114" cy="1034" r="25"/><text x="2114" y="1047">71</text></g>
<g id="C72" class="n pu"><circle cx="2130" cy="1072" r="25.5"/><text x="2130" y="1085">72</text></g>
<g id="C73" class="n br"><circle cx="2010" cy="338" r="18"/><text x="2010" y="351">73</text></g>
<g id="C74" class="n br"><circle cx="2715" cy="1450" r="20.5"/><text x="2715" y="1463">74</text></g>
<g id="C75" class="n br"><circle cx="2203" cy="551" r="21"/><text x="2203" y="564">75</text></g>
<g id="C76" class="n br"><circle cx="2848" cy="1448" r="19"/><text x="2848" y="1461">76</text></g>
<g id="C77" class="n br"><circle cx="1847" cy="677" r="21.5"/><text x="1847" y="690">77</text></g>
<g id="C78" class="n br"><circle cx="2333" cy="1360" r="23.5"/><text x="2333" y="1373">78</text></g>
<g id="C79" class="n br"><circle cx="1893" cy="506" r="20.5"/><text x="1893" y="519">79</text></g>
<g id="C80" class="n br"><circle cx="2690" cy="1614" r="18"/><text x="2690" y="1627">80</text></g>
<g id="C81" class="n br"><circle cx="2298" cy="581" r="21"/><text x="2298" y="594">81</text></g>
<g id="C82" class="n br"><circle cx="2882" cy="1359" r="19.5"/><text x="2882" y="1372">82</text></g>
</g>
</g>

<g id="panelB" transform="translate(-1529,1538)">
<g id="B-edges"><use xlink:href="#E" href="#E"/></g>
<g id="B-nodes">
<g id="B1" class="n dg"><circle cx="2332" cy="849" r="6"/><text x="2332" y="862">1</text></g>
<g id="B2" class="n dg"><circle cx="2435" cy="1036" r="3"/><text x="2435" y="1049">2</text></g>
<g id="B3" class="n dg"><circle cx="2362" cy="935" r="4"/><text x="2362" y="948">3</text></g>
<g id="B4" class="n dg"><circle cx="2358" cy="1054" r="17"/><text x="2358" y="1067">4</text></g>
<g id="B5" class="n dg"><circle cx="2272" cy="851" r="10"/><text x="2272" y="864">5</text></g>
<g id="B6" class="n dg"><circle cx="2474" cy="1057" r="20"/><text x="2474" y="1070">6</text></g>
<g id="B7" class="n dg"><circle cx="2312" cy="892" r="3"/><text x="2312" y="905">7</text></g>
<g id="B8" class="n dg"><circle cx="2457" cy="1003" r="2"/><text x="2457" y="1016">8</text></g>
<g id="B9" class="n lc"><circle cx="2452" cy="714" r="2"/><text x="2452" y="727">9</text></g>
<g id="B10" class="n lc"><circle cx="2734" cy="1149" r="2"/><text x="2734" y="1162">10</text></g>
<g id="B11" class="n lc"><circle cx="2587" cy="870" r="3"/><text x="2587" y="883">11</text></g>
<g id="B12" class="n lc"><circle cx="2578" cy="945" r="3"/><text x="2578" y="958">12</text></g>
<g id="B13" class="n mt"><circle cx="1952" cy="602" r="2"/><text x="1952" y="615">13</text></g>
<g id="B14" class="n mt"><circle cx="2712" cy="1351" r="2"/><text x="2712" y="1364">14</text></g>
<g id="B15" class="n mt"><circle cx="2195" cy="755" r="8"/><text x="2195" y="768">15</text></g>
<g id="B16" class="n mt"><circle cx="2564" cy="1188" r="5"/><text x="2564" y="1201">16</text></g>
<g id="B17" class="n mt"><circle cx="2012" cy="675" r="2"/><text x="2012" y="688">17</text></g>
<g id="B18" class="n mt"><circle cx="2719" cy="1304" r="2"/><text x="2719" y="1317">18</text></g>
<g id="B19" class="n mt"><circle cx="2078" cy="750" r="13"/><text x="2078" y="763">19</text></g>
<g id="B20" class="n mt"><circle cx="2467" cy="1231" r="9"/><text x="2467" y="1244">20</text></g>
<g id="B21" class="n mt"><circle cx="1806" cy="594" r="2"/><text x="1806" y="607">21</text></g>
<g id="B22" class="n mt"><circle cx="2519" cy="1394" r="2"/><text x="2519" y="1407">22</text></g>
<g id="B23" class="n mt"><circle cx="1922" cy="738" r="3"/><text x="1922" y="751">23</text></g>
<g id="B24" class="n mt"><circle cx="2619" cy="1390" r="2"/><text x="2619" y="1403">24</text></g>
<g id="B25" class="n mb"><circle cx="2337" cy="798" r="4"/><text x="2337" y="811">25</text></g>
<g id="B26" class="n mb"><circle cx="2611" cy="1001" r="2"/><text x="2611" y="1014">26</text></g>
<g id="B27" class="n mb"><circle cx="2231" cy="807" r="10"/><text x="2231" y="820">27</text></g>
<g id="B28" class="n mb"><circle cx="2500" cy="1116" r="8"/><text x="2500" y="1129">28</text></g>
<g id="B29" class="n lc"><circle cx="2164" cy="887" r="29"/><text x="2164" y="900">29</text></g>
<g id="B30" class="n lc"><circle cx="2395" cy="1103" r="22"/><text x="2395" y="1116">30</text></g>
<g id="B31" class="n dt"><circle cx="2077" cy="850" r="4"/><text x="2077" y="863">31</text></g>
<g id="B32" class="n dt"><circle cx="2221" cy="1078" r="3"/><text x="2221" y="1091">32</text></g>
<g id="B33" class="n mt"><circle cx="1758" cy="980" r="2"/><text x="1758" y="993">33</text></g>
<g id="B34" class="n dt"><circle cx="1942" cy="1142" r="3"/><text x="1942" y="1155">34</text></g>
<g id="B35" class="n dt"><circle cx="2041" cy="1011" r="10"/><text x="2041" y="1024">35</text></g>
<g id="B36" class="n dt"><circle cx="2080" cy="993" r="12"/><text x="2080" y="1006">36</text></g>
<g id="B37" class="n bl"><circle cx="2162" cy="946" r="5"/><text x="2162" y="959">37</text></g>
<g id="B38" class="n bl"><circle cx="2215" cy="1000" r="2"/><text x="2215" y="1013">38</text></g>
<g id="B39" class="n mt"><circle cx="2261" cy="901" r="3"/><text x="2261" y="914">39</text></g>
<g id="B40" class="n mt"><circle cx="2494" cy="910" r="2"/><text x="2494" y="923">40</text></g>
<g id="B41" class="n dt"><circle cx="1631" cy="926" r="2"/><text x="1631" y="939">41</text></g>
<g id="B42" class="n dt"><circle cx="1858" cy="1198" r="2"/><text x="1858" y="1211">42</text></g>
<g id="B43" class="n mt"><circle cx="2099" cy="889" r="5"/><text x="2099" y="902">43</text></g>
<g id="B44" class="n mt"><circle cx="2298" cy="1114" r="5"/><text x="2298" y="1127">44</text></g>
<g id="B45" class="n dt"><circle cx="1714" cy="1037" r="2"/><text x="1714" y="1050">45</text></g>
<g id="B46" class="n dt"><circle cx="1768" cy="1180" r="2"/><text x="1768" y="1193">46</text></g>
<g id="B47" class="n dt"><circle cx="1722" cy="826" r="2"/><text x="1722" y="839">47</text></g>
<g id="B48" class="n dt"><circle cx="1907" cy="1272" r="2"/><text x="1907" y="1285">48</text></g>
<g id="B49" class="n mt"><circle cx="1606" cy="658" r="2"/><text x="1606" y="671">49</text></g>
<g id="B50" class="n mt"><circle cx="2238" cy="1479" r="2"/><text x="2238" y="1492">50</text></g>
<g id="B51" class="n mt"><circle cx="2061" cy="606" r="2"/><text x="2061" y="619">51</text></g>
<g id="B52" class="n mt"><circle cx="2540" cy="1331" r="2"/><text x="2540" y="1344">52</text></g>
<g id="B53" class="n mt"><circle cx="2325" cy="951" r="3"/><text x="2325" y="964">53</text></g>
<g id="B54" class="n mt"><circle cx="2377" cy="1003" r="3"/><text x="2377" y="1016">54</text></g>
<g id="B55" class="n mt"><circle cx="2420" cy="896" r="2"/><text x="2420" y="909">55</text></g>
<g id="B56" class="n mt"><circle cx="2465" cy="873" r="2"/><text x="2465" y="886">56</text></g>
<g id="B57" class="n mt"><circle cx="2230" cy="953" r="3"/><text x="2230" y="966">57</text></g>
<g id="B58" class="n mt"><circle cx="2299" cy="1005" r="3"/><text x="2299" y="1018">58</text></g>
<g id="B59" class="n mt"><circle cx="2454" cy="940" r="3"/><text x="2454" y="953">59</text></g>
<g id="B60" class="n mt"><circle cx="2511" cy="973" r="2"/><text x="2511" y="986">60</text></g>
<g id="B61" class="n dt"><circle cx="1701" cy="875" r="2"/><text x="1701" y="888">61</text></g>
<g id="B62" class="n dt"><circle cx="1658" cy="1136" r="2"/><text x="1658" y="1149">62</text></g>
<g id="B63" class="n pu"><circle cx="1782" cy="875" r="2"/><text x="1782" y="888">63</text></g>
<g id="B64" class="n pu"><circle cx="2142" cy="1288" r="2"/><text x="2142" y="1301">64</text></g>
<g id="B65" class="n pu"><circle cx="1858" cy="920" r="2"/><text x="1858" y="933">65</text></g>
<g id="B66" class="n pu"><circle cx="2047" cy="1252" r="2"/><text x="2047" y="1265">66</text></g>
<g id="B67" class="n pu"><circle cx="1952" cy="1010" r="3"/><text x="1952" y="1023">67</text></g>
<g id="B68" class="n pu"><circle cx="2123" cy="1134" r="3"/><text x="2123" y="1147">68</text></g>
<g id="B69" class="n pu"><circle cx="1799" cy="728" r="2"/><text x="1799" y="741">69</text></g>
<g id="B70" class="n pu"><circle cx="2307" cy="1297" r="2"/><text x="2307" y="1310">70</text></g>
<g id="B71" class="n pu"><circle cx="2114" cy="1034" r="3"/><text x="2114" y="1047">71</text></g>
<g id="B72" class="n pu"><circle cx="2130" cy="1072" r="3"/><text x="2130" y="1085">72</text></g>
<g id="B73" class="n br"><circle cx="2010" cy="338" r="2"/><text x="2010" y="351">73</text></g>
<g id="B74" class="n br"><circle cx="2715" cy="1450" r="2"/><text x="2715" y="1463">74</text></g>
<g id="B75" class="n br"><circle cx="2203" cy="551" r="2"/><text x="2203" y="564">75</text></g>
<g id="B76" class="n br"><circle cx="2848" cy="1448" r="2"/><text x="2848" y="1461">76</text></g>
<g id="B77" class="n br"><circle cx="1847" cy="677" r="2"/><text x="1847" y="690">77</text></g>
<g id="B78" class="n br"><circle cx="2333" cy="1360" r="2"/><text x="2333" y="1373">78</text></g>
<g id="B79" class="n br"><circle cx="1893" cy="506" r="2"/><text x="1893" y="519">79</text></g>
<g id="B80" class="n br"><circle cx="2690" cy="1614" r="2"/><text x="2690" y="1627">80</text></g>
<g id="B81" class="n br"><circle cx="2298" cy="581" r="2"/><text x="2298" y="594">81</text></g>
<g id="B82" class="n br"><circle cx="2882" cy="1359" r="2"/><text x="2882" y="1372">82</text></g>
</g>
</g>

<g id="panelD" transform="translate(-4,1547)">
<g id="D-edges"><use xlink:href="#E" href="#E"/></g>
<g id="D-nodes">
<g id="D1" class="n dg"><circle cx="2332" cy="849" r="26"/><text x="2332" y="862">1</text></g>
<g id="D2" class="n dg"><circle cx="2435" cy="1036" r="24"/><text x="2435" y="1049">2</text></g>
<g id="D3" class="n dg"><circle cx="2362" cy="935" r="26"/><text x="2362" y="948">3</text></g>
<g id="D4" class="n dg"><circle cx="2358" cy="1054" r="28"/><text x="2358" y="1067">4</text></g>
<g id="D5" class="n dg"><circle cx="2272" cy="851" r="26"/><text x="2272" y="864">5</text></g>
<g id="D6" class="n dg"><circle cx="2474" cy="1057" r="28"/><text x="2474" y="1070">6</text></g>
<g id="D7" class="n dg"><circle cx="2312" cy="892" r="24"/><text x="2312" y="905">7</text></g>
<g id="D8" class="n dg"><circle cx="2457" cy="1003" r="24"/><text x="2457" y="1016">8</text></g>
<g id="D9" class="n lc"><circle cx="2452" cy="714" r="8"/><text x="2452" y="727">9</text></g>
<g id="D10" class="n lc"><circle cx="2734" cy="1149" r="8"/><text x="2734" y="1162">10</text></g>
<g id="D11" class="n lc"><circle cx="2587" cy="870" r="20"/><text x="2587" y="883">11</text></g>
<g id="D12" class="n lc"><circle cx="2578" cy="945" r="20"/><text x="2578" y="958">12</text></g>
<g id="D13" class="n mt"><circle cx="1952" cy="602" r="10"/><text x="1952" y="615">13</text></g>
<g id="D14" class="n mt"><circle cx="2712" cy="1351" r="8"/><text x="2712" y="1364">14</text></g>
<g id="D15" class="n mt"><circle cx="2195" cy="755" r="18"/><text x="2195" y="768">15</text></g>
<g id="D16" class="n mt"><circle cx="2564" cy="1188" r="14"/><text x="2564" y="1201">16</text></g>
<g id="D17" class="n mt"><circle cx="2012" cy="675" r="12"/><text x="2012" y="688">17</text></g>
<g id="D18" class="n mt"><circle cx="2719" cy="1304" r="8"/><text x="2719" y="1317">18</text></g>
<g id="D19" class="n mt"><circle cx="2078" cy="750" r="18"/><text x="2078" y="763">19</text></g>
<g id="D20" class="n mt"><circle cx="2467" cy="1231" r="14"/><text x="2467" y="1244">20</text></g>
<g id="D21" class="n mt"><circle cx="1806" cy="594" r="8"/><text x="1806" y="607">21</text></g>
<g id="D22" class="n mt"><circle cx="2519" cy="1394" r="10"/><text x="2519" y="1407">22</text></g>
<g id="D23" class="n mt"><circle cx="1922" cy="738" r="12"/><text x="1922" y="751">23</text></g>
<g id="D24" class="n mt"><circle cx="2619" cy="1390" r="10"/><text x="2619" y="1403">24</text></g>
<g id="D25" class="n mb"><circle cx="2337" cy="798" r="20"/><text x="2337" y="811">25</text></g>
<g id="D26" class="n mb"><circle cx="2611" cy="1001" r="16"/><text x="2611" y="1014">26</text></g>
<g id="D27" class="n mb"><circle cx="2231" cy="807" r="22"/><text x="2231" y="820">27</text></g>
<g id="D28" class="n mb"><circle cx="2500" cy="1116" r="20"/><text x="2500" y="1129">28</text></g>
<g id="D29" class="n lc"><circle cx="2164" cy="887" r="30"/><text x="2164" y="900">29</text></g>
<g id="D30" class="n lc"><circle cx="2395" cy="1103" r="26"/><text x="2395" y="1116">30</text></g>
<g id="D31" class="n dt"><circle cx="2077" cy="850" r="20"/><text x="2077" y="863">31</text></g>
<g id="D32" class="n dt"><circle cx="2221" cy="1078" r="20"/><text x="2221" y="1091">32</text></g>
<g id="D33" class="n mt"><circle cx="1758" cy="980" r="10"/><text x="1758" y="993">33</text></g>
<g id="D34" class="n dt"><circle cx="1942" cy="1142" r="12"/><text x="1942" y="1155">34</text></g>
<g id="D35" class="n dt"><circle cx="2041" cy="1011" r="24"/><text x="2041" y="1024">35</text></g>
<g id="D36" class="n dt"><circle cx="2080" cy="993" r="24"/><text x="2080" y="1006">36</text></g>
<g id="D37" class="n bl"><circle cx="2162" cy="946" r="26"/><text x="2162" y="959">37</text></g>
<g id="D38" class="n bl"><circle cx="2215" cy="1000" r="24"/><text x="2215" y="1013">38</text></g>
<g id="D39" class="n mt"><circle cx="2261" cy="901" r="22"/><text x="2261" y="914">39</text></g>
<g id="D40" class="n mt"><circle cx="2494" cy="910" r="20"/><text x="2494" y="923">40</text></g>
<g id="D41" class="n dt"><circle cx="1631" cy="926" r="8"/><text x="1631" y="939">41</text></g>
<g id="D42" class="n dt"><circle cx="1858" cy="1198" r="8"/><text x="1858" y="1211">42</text></g>
<g id="D43" class="n mt"><circle cx="2099" cy="889" r="22"/><text x="2099" y="902">43</text></g>
<g id="D44" class="n mt"><circle cx="2298" cy="1114" r="20"/><text x="2298" y="1127">44</text></g>
<g id="D45" class="n dt"><circle cx="1714" cy="1037" r="8"/><text x="1714" y="1050">45</text></g>
<g id="D46" class="n dt"><circle cx="1768" cy="1180" r="6"/><text x="1768" y="1193">46</text></g>
<g id="D47" class="n dt"><circle cx="1722" cy="826" r="12"/><text x="1722" y="839">47</text></g>
<g id="D48" class="n dt"><circle cx="1907" cy="1272" r="6"/><text x="1907" y="1285">48</text></g>
<g id="D49" class="n mt"><circle cx="1606" cy="658" r="8"/><text x="1606" y="671">49</text></g>
<g id="D50" class="n mt"><circle cx="2238" cy="1479" r="6"/><text x="2238" y="1492">50</text></g>
<g id="D51" class="n mt"><circle cx="2061" cy="606" r="10"/><text x="2061" y="619">51</text></g>
<g id="D52" class="n mt"><circle cx="2540" cy="1331" r="8"/><text x="2540" y="1344">52</text></g>
<g id="D53" class="n mt"><circle cx="2325" cy="951" r="22"/><text x="2325" y="964">53</text></g>
<g id="D54" class="n mt"><circle cx="2377" cy="1003" r="22"/><text x="2377" y="1016">54</text></g>
<g id="D55" class="n mt"><circle cx="2420" cy="896" r="22"/><text x="2420" y="909">55</text></g>
<g id="D56" class="n mt"><circle cx="2465" cy="873" r="20"/><text x="2465" y="886">56</text></g>
<g id="D57" class="n mt"><circle cx="2230" cy="953" r="22"/><text x="2230" y="966">57</text></g>
<g id="D58" class="n mt"><circle cx="2299" cy="1005" r="22"/><text x="2299" y="1018">58</text></g>
<g id="D59" class="n mt"><circle cx="2454" cy="940" r="22"/><text x="2454" y="953">59</text></g>
<g id="D60" class="n mt"><circle cx="2511" cy="973" r="20"/><text x="2511" y="986">60</text></g>
<g id="D61" class="n dt"><circle cx="1701" cy="875" r="8"/><text x="1701" y="888">61</text></g>
<g id="D62" class="n dt"><circle cx="1658" cy="1136" r="6"/><text x="1658" y="1149">62</text></g>
<g id="D63" class="n pu"><circle cx="1782" cy="875" r="10"/><text x="1782" y="888">63</text></g>
<g id="D64" class="n pu"><circle cx="2142" cy="1288" r="10"/><text x="2142" y="1301">64</text></g>
<g id="D65" class="n pu"><circle cx="1858" cy="920" r="10"/><text x="1858" y="933">65</text></g>
<g id="D66" class="n pu"><circle cx="2047" cy="1252" r="10"/><text x="2047" y="1265">66</text></g>
<g id="D67" class="n pu"><circle cx="1952" cy="1010" r="14"/><text x="1952" y="1023">67</text></g>
<g id="D68" class="n pu"><circle cx="2123" cy="1134" r="16"/><text x="2123" y="1147">68</text></g>
<g id="D69" class="n pu"><circle cx="1799" cy="728" r="10"/><text x="1799" y="741">69</text></g>
<g id="D70" class="n pu"><circle cx="2307" cy="1297" r="10"/><text x="2307" y="1310">70</text></g>
<g id="D71" class="n pu"><circle cx="2114" cy="1034" r="22"/><text x="2114" y="1047">71</text></g>
<g id="D72" class="n pu"><circle cx="2130" cy="1072" r="22"/><text x="2130" y="1085">72</text></g>
<g id="D73" class="n br"><circle cx="2010" cy="338" r="6"/><text x="2010" y="351">73</text></g>
<g id="D74" class="n br"><circle cx="2715" cy="1450" r="6"/><text x="2715" y="1463">74</text></g>
<g id="D75" class="n br"><circle cx="2203" cy="551" r="6"/><text x="2203" y="564">75</text></g>
<g id="D76" class="n br"><circle cx="2848" cy="1448" r="6"/><text x="2848" y="1461">76</text></g>
<g id="D77" class="n br"><circle cx="1847" cy="677" r="8"/><text x="1847" y="690">77</text></g>
<g id="D78" class="n br"><circle cx="2333" cy="1360" r="8"/><text x="2333" y="1373">78</text></g>
<g id="D79" class="n br"><circle cx="1893" cy="506" r="6"/><text x="1893" y="519">79</text></g>
<g id="D80" class="n br"><circle cx="2690" cy="1614" r="6"/><text x="2690" y="1627">80</text></g>
<g id="D81" class="n br"><circle cx="2298" cy="581" r="6"/><text x="2298" y="594">81</text></g>
<g id="D82" class="n br"><circle cx="2882" cy="1359" r="6"/><text x="2882" y="1372">82</text></g>
</g>
</g>
</svg>
